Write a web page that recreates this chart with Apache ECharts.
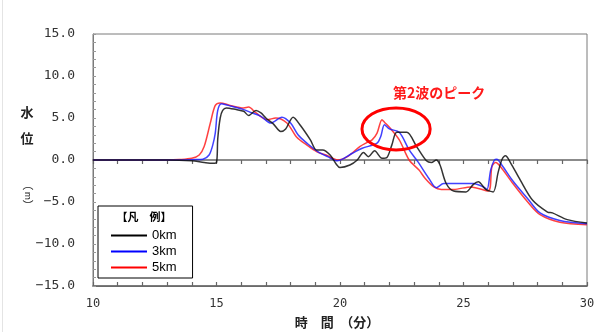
<!DOCTYPE html>
<html><head><meta charset="utf-8">
<script src="https://cdn.jsdelivr.net/npm/echarts@6/dist/echarts.min.js"></script>
<style>html,body{margin:0;padding:0;background:#fff}#c{width:606px;height:332px}</style>
</head><body><div id="c"></div>
<script>
// ---- data (time in minutes, water level in m) ----
const seriesNames = ['0km', '3km', '5km'];
const xTicks = [10, 15, 20, 25, 30];
const yTicks = [-15, -10, -5, 0, 5, 10, 15];
const level0km = [[10,0],[13,0],[14,-0.1],[14.5,-0.3],[14.85,-0.4],[15.0,-0.3],[15.05,2.5],[15.15,5.0],[15.25,5.9],[15.4,6.2],[15.8,6.0],[16.1,5.8],[16.3,5.3],[16.6,5.9],[16.8,5.6],[17.0,5.0],[17.3,4.3],[17.6,3.4],[17.8,3.7],[18.1,5.1],[18.4,4.1],[18.8,2.4],[19.05,1.2],[19.3,1.2],[19.6,0.6],[19.85,-0.5],[20.0,-0.9],[20.4,-0.6],[20.7,0.0],[20.95,0.9],[21.15,0.4],[21.4,1.1],[21.7,0.2],[21.9,0.3],[22.1,1.8],[22.3,3.3],[22.7,3.3],[23.1,1.6],[23.5,-0.1],[23.7,-0.3],[23.9,0.0],[24.05,-0.6],[24.3,-2.8],[24.6,-3.7],[25.1,-3.8],[25.4,-2.9],[25.6,-2.6],[25.9,-3.5],[26.2,-3.8],[26.4,-1.5],[26.55,0.0],[26.7,0.5],[26.9,-0.3],[27.3,-2.4],[27.8,-4.8],[28.4,-6.2],[28.6,-6.3],[29.2,-7.1],[30,-7.5]];
const level3km = [[10,0],[13.5,0],[14.2,0.05],[14.45,0.1],[14.7,0.6],[14.85,1.8],[14.95,3.2],[15.05,5.9],[15.2,6.7],[15.6,6.4],[16.1,6.0],[16.35,5.7],[16.8,5.2],[17.2,4.4],[17.65,5.1],[18.0,4.4],[18.3,3.0],[18.7,1.9],[19.1,1.0],[19.5,0.4],[19.9,-0.1],[20.1,0.1],[20.5,0.8],[20.9,1.4],[21.5,2.0],[21.65,2.8],[21.8,4.2],[22.0,3.7],[22.4,3.3],[22.8,1.2],[23.15,-0.2],[23.6,-2.2],[23.9,-3.3],[24.2,-2.8],[25.4,-2.8],[25.8,-3.2],[25.95,-3.5],[26.1,-1.2],[26.25,0.0],[26.35,0.1],[26.55,-0.6],[27.0,-2.5],[27.6,-4.6],[28.1,-6.3],[28.9,-7.2],[30,-7.6]];
const level5km = [[10,0],[13.0,0],[13.5,0.05],[14.0,0.2],[14.3,0.6],[14.5,1.6],[14.75,4.4],[14.95,6.5],[15.15,6.8],[15.55,6.5],[16.1,6.2],[16.3,6.3],[16.6,5.6],[17.05,4.8],[17.4,5.0],[17.85,4.4],[18.25,2.7],[18.65,1.8],[19.05,1.0],[19.5,0.5],[19.9,0.0],[20.3,0.4],[20.8,1.6],[21.1,2.1],[21.3,2.4],[21.5,3.2],[21.7,4.8],[21.8,4.5],[22.0,3.9],[22.4,2.4],[22.8,0.0],[23.2,-1.2],[23.45,-2.2],[23.8,-3.2],[24.1,-3.5],[24.6,-3.5],[25.3,-3.2],[26.0,-3.7],[26.15,-0.8],[26.3,-0.3],[26.5,-0.8],[27.0,-2.8],[27.6,-5.0],[28.1,-6.5],[28.9,-7.4],[30,-7.7]];
const annotationText = '第2波のピーク';
const legendTitle = '【凡　例】';
const xTitle = '時　間　（分）';

// ---- chart ----
const chart = echarts.init(document.getElementById('c'), null, {renderer: 'canvas'});
const colors = ['#111111', '#2020ff', '#ff2020'];
const legendColors = ['#000000', '#0000ff', '#ff0000'];
const datasets = [level0km, level3km, level5km];
const monoFont = 'DejaVu Sans Mono';

const zeroAxisBase = {
  type: 'value', min: xTicks[0], max: xTicks[xTicks.length - 1], interval: 1,
  position: 'bottom',
  axisLine: {show: true, onZero: true, lineStyle: {color: '#666', width: 1.5}},
  axisLabel: {show: false}, splitLine: {show: false}
};

chart.setOption({
  animation: false,
  grid: {left: 93, right: 19, top: 34, bottom: 46, show: true, borderColor: '#7a7a7a', borderWidth: 1},
  xAxis: [
    {type: 'value', min: xTicks[0], max: xTicks[xTicks.length - 1], interval: 5, position: 'bottom',
     axisLine: {show: true, onZero: false, lineStyle: {color: '#7a7a7a'}},
     axisTick: {show: false}, splitLine: {show: false},
     axisLabel: {color: '#333', fontFamily: monoFont, fontSize: 12, margin: 12}},
    Object.assign({}, zeroAxisBase, {axisTick: {show: true, inside: false, length: 4, lineStyle: {color: '#666', width: 1.2}}}),
    Object.assign({}, zeroAxisBase, {axisTick: {show: true, inside: true, length: 4, lineStyle: {color: '#666', width: 1.2}}})
  ],
  yAxis: {type: 'value', min: yTicks[0], max: yTicks[yTicks.length - 1], interval: 5,
    axisLine: {show: true, lineStyle: {color: '#7a7a7a'}},
    axisTick: {show: true, inside: true, length: 3, lineStyle: {color: '#999'}},
    minorTick: {show: true, splitNumber: 5, length: 3, lineStyle: {color: '#999'}},
    splitLine: {show: false},
    axisLabel: {color: '#333', fontFamily: monoFont, fontSize: 13, margin: 18,
      formatter: v => (v < 0 ? '−' + Math.abs(v).toFixed(1) : v.toFixed(1))}},
  legend: {
    orient: 'vertical', left: 98, top: 206,
    data: seriesNames.map((n, i) => ({name: n, itemStyle: {color: legendColors[i]}})),
    icon: 'rect', itemWidth: 36, itemHeight: 2, itemGap: 3,
    padding: [23, 16, 4, 13],
    borderColor: '#000', borderWidth: 1, backgroundColor: '#fff',
    textStyle: {fontSize: 13, color: '#000', fontFamily: 'Liberation Sans', lineHeight: 13}
  },
  series: seriesNames.map((n, i) => ({
    name: n, type: 'line', data: datasets[i], xAxisIndex: 0, smooth: 0.3,
    showSymbol: false, symbol: 'none', z: 3 - i + 2,
    lineStyle: {color: colors[i], width: 1.5, opacity: 0.85}, itemStyle: {color: colors[i]}
  }))
});

// annotations placed via the chart's own coordinate system
const c = chart.convertToPixel({gridIndex: 0}, [22.27, 3.7]);
const e = chart.convertToPixel({gridIndex: 0}, [22.27 + 1.38, 3.7 - 2.5]);
const t = chart.convertToPixel({gridIndex: 0}, [22.15, 8.0]);
chart.setOption({
  graphic: [
    {type: 'ellipse', z: 100, shape: {cx: c[0], cy: c[1], rx: e[0] - c[0], ry: e[1] - c[1]},
     style: {fill: 'none', stroke: '#ff0000', lineWidth: 3}},
    {type: 'text', z: 100, x: t[0], y: t[1],
     style: {text: annotationText, fill: '#ff1a1a', font: 'bold 14px "Noto Sans CJK JP"', textVerticalAlign: 'middle'}},
    {type: 'text', z: 100, x: 144, y: 217,
     style: {text: legendTitle, fill: '#000', font: 'bold 11px "Noto Sans CJK JP"', textAlign: 'center', textVerticalAlign: 'middle'}},
    {type: 'text', z: 100, x: 337, y: 322,
     style: {text: xTitle, fill: '#222', font: 'bold 13px "Noto Sans CJK JP"', textAlign: 'center', textVerticalAlign: 'middle'}},
    {type: 'text', z: 100, x: 27, y: 112,
     style: {text: '水', fill: '#222', font: 'bold 13px "Noto Sans CJK JP"', textAlign: 'center', textVerticalAlign: 'middle'}},
    {type: 'text', z: 100, x: 27, y: 138,
     style: {text: '位', fill: '#222', font: 'bold 13px "Noto Sans CJK JP"', textAlign: 'center', textVerticalAlign: 'middle'}},
    {type: 'text', z: 100, x: 28, y: 185,
     style: {text: '︵', fill: '#222', font: '11px "Noto Sans CJK JP"', textAlign: 'center', textVerticalAlign: 'middle'}},
    {type: 'text', z: 100, x: 28, y: 196, rotation: -Math.PI / 2,
     style: {text: 'm', fill: '#222', font: '9px "Noto Sans CJK JP"', textAlign: 'center', textVerticalAlign: 'middle'}},
    {type: 'text', z: 100, x: 28, y: 206,
     style: {text: '︶', fill: '#222', font: '11px "Noto Sans CJK JP"', textAlign: 'center', textVerticalAlign: 'middle'}},
    {type: 'rect', z: 0, shape: {x: 2, y: 0, width: 1, height: 332}, style: {fill: '#e4e4e4'}}
  ]
});
</script></body></html>
